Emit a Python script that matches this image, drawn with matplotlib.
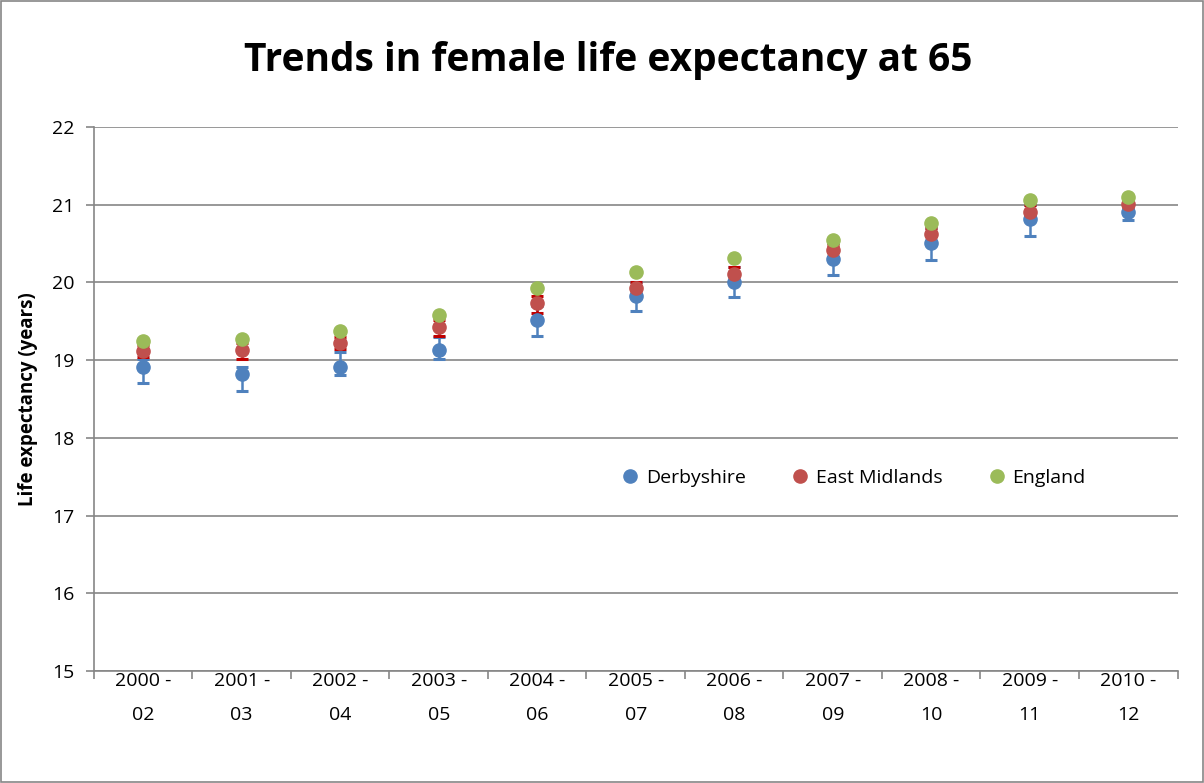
import numpy as np
import matplotlib.pyplot as plt
from matplotlib.patches import Rectangle

# --- données ---
periodes = ["2000 -\n02", "2001 -\n03", "2002 -\n04", "2003 -\n05", "2004 -\n06", "2005 -\n07",
            "2006 -\n08", "2007 -\n09", "2008 -\n10", "2009 -\n11", "2010 -\n12"]

derby = [18.91, 18.82, 18.91, 19.13, 19.52, 19.83, 20.0, 20.3, 20.51, 20.81, 20.9]
derby_bas = [18.70, 18.60, 18.81, 19.01, 19.31, 19.63, 19.81, 20.09, 20.29, 20.59, 20.80]
derby_haut = [19.01, 18.91, 19.10, 19.30, 19.70, 20.00, 20.20, 20.50, 20.70, 21.00, 21.00]

em = [19.12, 19.13, 19.22, 19.42, 19.73, 19.93, 20.11, 20.41, 20.62, 20.91, 21.01]
em_bas = [19.04, 19.01, 19.14, 19.31, 19.60, 19.85, 20.02, 20.33, 20.53, 20.83, 20.94]
em_haut = [19.20, 19.22, 19.30, 19.52, 19.82, 20.00, 20.20, 20.48, 20.70, 21.00, 21.07]

england = [19.24, 19.27, 19.37, 19.58, 19.93, 20.13, 20.31, 20.54, 20.76, 21.06, 21.10]

BLEU = "#4F81BD"
ROUGE = "#C0504D"
ROUGE_ERR = "#C00000"
VERT = "#9BBB59"

plt.rcParams['font.family'] = ['Open Sans', 'DejaVu Sans']

fig = plt.figure(figsize=(12.04, 7.83), dpi=100)
ax = fig.add_axes([0.078, 0.143, 0.9, 0.695])

x = np.arange(len(periodes))

# barres d'erreur sous tous les marqueurs
def barres(vals, bas, haut, couleur, z):
    vals = np.array(vals)
    yerr = [vals - np.array(bas), np.array(haut) - vals]
    ax.errorbar(x, vals, yerr=yerr, fmt='none', ecolor=couleur, elinewidth=1.8,
                capsize=4.5, capthick=2.2, zorder=z)

barres(derby, derby_bas, derby_haut, BLEU, 2)
barres(em, em_bas, em_haut, ROUGE_ERR, 3)
ax.plot(x, derby, 'o', color=BLEU, ms=9.5, label="Derbyshire", zorder=4)
ax.plot(x, em, 'o', color=ROUGE, ms=9.5, label="East Midlands", zorder=5)
ax.plot(x, england, 'o', color=VERT, ms=9.5, label="England", zorder=6)

ax.set_xlim(-0.5, len(periodes) - 0.5)
ax.set_ylim(15, 22)
ax.set_yticks(range(15, 23))
ax.set_xticks(x)
ax.set_xticklabels(periodes, fontsize=14, linespacing=2.1)
ax.set_xticks(np.arange(-0.5, len(periodes)), minor=True)
ax.tick_params(axis='x', which='major', length=0, pad=1)
ax.tick_params(axis='x', which='minor', length=6, color='#868686', width=1.2)
ax.tick_params(axis='y', length=6, color='#868686', width=1.2, labelsize=14, pad=8)

ax.grid(axis='y', color='#868686', linewidth=1.2)
ax.set_axisbelow(True)
for cote in ['top', 'right']:
    ax.spines[cote].set_visible(False)
for cote in ['left', 'bottom']:
    ax.spines[cote].set_color('#868686')
    ax.spines[cote].set_linewidth(1.2)

ax.set_ylabel("Life expectancy (years)", fontsize=13.5, fontweight='bold', labelpad=10)
fig.text(0.505, 0.923, "Trends in female life expectancy at 65", fontsize=28,
         fontweight='bold', ha='center', va='center')

ax.legend(loc='center left', bbox_to_anchor=(0.47, 0.355), ncol=3, frameon=False,
          fontsize=14, handletextpad=0.3, columnspacing=2.3, handlelength=1.0)

fig.patches.append(Rectangle((0.001, 0.001), 0.998, 0.998, transform=fig.transFigure,
                             fill=False, edgecolor='#868686', linewidth=1.2))

fig.savefig("out.png", dpi=100)
